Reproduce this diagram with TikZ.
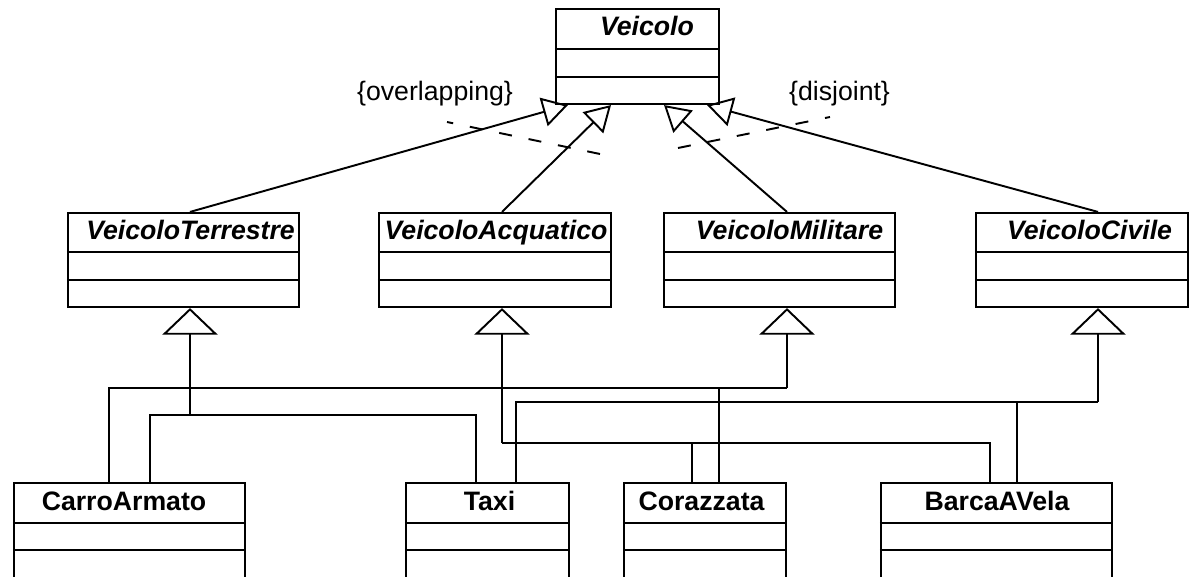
\documentclass[tikz,border=0pt]{standalone}
\usepackage{fontspec}
\setmainfont{Liberation Sans}
\usetikzlibrary{arrows.meta,fit}

\begin{document}
\begin{tikzpicture}[x=0.75pt,y=-0.75pt]
    \tikzstyle{cls}=[draw, line width=1.6pt, inner sep=0pt]
    \tikzstyle{abs}=[anchor=base, inner sep=0pt, font=\fontsize{20}{24}\selectfont\bfseries\itshape]
    \tikzstyle{conc}=[anchor=base, inner sep=0pt, font=\fontsize{20}{24}\selectfont\bfseries]
    \tikzstyle{cons}=[anchor=base, inner sep=0pt, font=\fontsize{20}{24}\selectfont]
    \tikzstyle{wire}=[line width=1.45pt]
    \tikzstyle{gen}=[wire, -{Triangle[open, length=19pt, width=22pt]}]
    \tikzstyle{genb}=[wire, -{Triangle[open, length=20pt, width=41.5pt]}]
    \tikzstyle{constr}=[wire, dash pattern=on 9.75pt off 12.75pt]

    \useasboundingbox (0,0) rectangle (1189,577);

    % classes
    \node[cls, fit={(556,9) (719,104)}] (veic) {};
    \node[cls, fit={(68,213) (299,307)}] (terr) {};
    \node[cls, fit={(379,213) (611,307)}] (acq) {};
    \node[cls, fit={(664,213) (895,307)}] (mil) {};
    \node[cls, fit={(976,213) (1188,307)}] (civ) {};
    \node[cls, fit={(14,483) (245,592)}] (carro) {};
    \node[cls, fit={(406,483) (569,592)}] (taxi) {};
    \node[cls, fit={(624,483) (786,592)}] (coraz) {};
    \node[cls, fit={(881,483) (1112,592)}] (barca) {};

    \foreach \n/\ya/\yb in {veic/49/77, terr/252/280, acq/252/280, mil/252/280, civ/252/280,
                            carro/523/550, taxi/523/550, coraz/523/550, barca/523/550}
      \draw[cls] (\n.west |- 0,\ya) -- (\n.east |- 0,\ya) (\n.west |- 0,\yb) -- (\n.east |- 0,\yb);

    \node[abs] (tveic) at (647,36) {Veicolo};
    \node[abs] (tterr) at (190.5,240) {VeicoloTerrestre};
    \node[abs] (tacq) at (496,240) {VeicoloAcquatico};
    \node[abs] (tmil) at (789.5,240) {VeicoloMilitare};
    \node[abs] (tciv) at (1089.5,240) {VeicoloCivile};
    \node[conc] (tcarro) at (124,510) {CarroArmato};
    \node[conc] (ttaxi) at (489.5,510) {Taxi};
    \node[conc] (tcoraz) at (701.5,510) {Corazzata};
    \node[conc] (tbarca) at (997,510) {BarcaAVela};

    % generalizations to Veicolo
    \draw[gen] (terr.north -| 190,0) -- (veic.south -| 568,0);
    \draw[gen] (acq.north -| 502,0) -- (veic.south -| 611,0);
    \draw[gen] (mil.north -| 787,0) -- (veic.south -| 664,0);
    \draw[gen] (civ.north -| 1098,0) -- (veic.south -| 707,0);

    % constraints
    \coordinate (ov1) at (600,154);
    \coordinate (ov2) at (447,122);
    \coordinate (dj1) at (678,148);
    \coordinate (dj2) at (830,117);
    \draw[constr] (ov1) -- (ov2);
    \draw[constr] (dj1) -- (dj2);
    \node[cons] (tover) at (435,101) {\{overlapping\}};
    \node[cons] (tdisj) at (839.5,101) {\{disjoint\}};

    % generalizations to the concrete classes
    \coordinate (jterr) at (190,415);
    \coordinate (jacq) at (502,443);
    \coordinate (jmil) at (787,388);
    \coordinate (jciv) at (1098,402);

    \draw[genb] (jterr) -- (terr.south -| jterr);
    \draw[genb] (jacq) -- (acq.south -| jacq);
    \draw[genb] (jmil) -- (mil.south -| jmil);
    \draw[genb] (jciv) -- (civ.south -| jciv);

    \draw[wire] (carro.north -| 150,0) |- (jterr) -| (taxi.north -| 476,0);
    \draw[wire] (jacq) -| (barca.north -| 990,0);
    \draw[wire] (coraz.north -| 692,0) -- (jacq -| 692,0);
    \draw[wire] (carro.north -| 109,0) |- (jmil);
    \draw[wire] (coraz.north -| 719,0) -- (jmil -| 719,0);
    \draw[wire] (taxi.north -| 516,0) |- (jciv);
    \draw[wire] (barca.north -| 1017,0) -- (jciv -| 1017,0);
  \end{tikzpicture}
\end{document}
